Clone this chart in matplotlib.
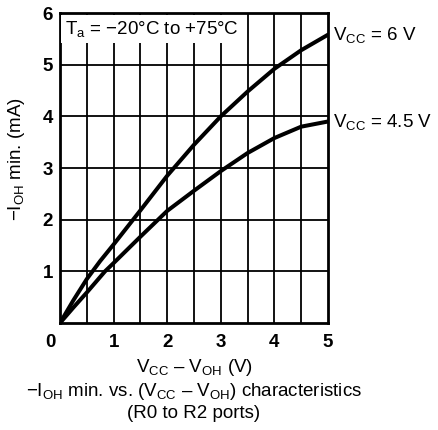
import matplotlib
matplotlib.use("Agg")
import matplotlib.pyplot as plt
import matplotlib.transforms as mtransforms
import numpy as np

plt.rcParams['font.family'] = ['Liberation Sans', 'DejaVu Sans']
plt.rcParams['mathtext.fontset'] = 'custom'
plt.rcParams['mathtext.rm'] = 'Liberation Sans'
plt.rcParams['mathtext.it'] = 'Liberation Sans'
plt.rcParams['mathtext.default'] = 'regular'

# data
x_6v = [0.0, 0.25, 0.5, 0.75, 1.0, 1.5, 2.0, 2.5, 3.0, 3.5, 4.0, 4.5, 5.0]
y_6v = [0.0, 0.44, 0.85, 1.2, 1.52, 2.18, 2.85, 3.45, 4.0, 4.48, 4.92, 5.28, 5.58]
x_45v = [0.0, 0.25, 0.5, 0.84, 1.0, 1.5, 2.0, 2.5, 3.0, 3.5, 4.0, 4.5, 5.0]
y_45v = [0.0, 0.3, 0.59, 1.0, 1.16, 1.67, 2.17, 2.56, 2.94, 3.29, 3.58, 3.8, 3.9]
xticks = [0, 1, 2, 3, 4, 5]
yticks = [0, 1, 2, 3, 4, 5, 6]
ytick_labels = ["", "1", "2", "3", "4", "5", "6"]
label_6v = "V$_{CC}$ = 6 V"
label_45v = "V$_{CC}$ = 4.5 V"

FS = 13.5

fig = plt.figure(figsize=(4.39, 4.30), dpi=100)
ax = fig.add_axes([60/439, 1-323/430, (328-60)/439, (323-13)/430])
ax.set_xlim(0, 5)
ax.set_ylim(0, 6)

for xv in np.arange(0.5, 5, 0.5):
    ax.axvline(xv, color='black', lw=1.3, zorder=1)
for yv in range(1, 6):
    ax.axhline(yv, color='black', lw=1.3, zorder=1)

ax.plot(x_6v, y_6v, color='black', lw=2.9, zorder=3, solid_capstyle='round', solid_joinstyle='round')
ax.plot(x_45v, y_45v, color='black', lw=2.9, zorder=3, solid_capstyle='round', solid_joinstyle='round')

for s in ax.spines.values():
    s.set_linewidth(2)
ax.set_xticks(xticks)
ax.set_yticks(yticks)
ax.set_yticklabels(ytick_labels)
ax.tick_params(length=0)
ax.tick_params(axis='x', pad=8)
ax.tick_params(axis='y', pad=5)
for lab in ax.get_xticklabels() + ax.get_yticklabels():
    lab.set_fontsize(FS)
    lab.set_fontweight('bold')
# the "0" sits left of the corner, as in the original
first = ax.get_xticklabels()[0]
first.set_transform(first.get_transform() + mtransforms.ScaledTranslation(-7/72, 0, fig.dpi_scale_trans))

ax.text(0.1, 5.69, "T$_a$ = \u221220\u00b0C to +75\u00b0C", fontsize=FS, va='center', ha='left',
        zorder=4, bbox=dict(facecolor='white', edgecolor='none', pad=3))

ax.text(5.1, y_6v[-1], label_6v, fontsize=FS, va='center', ha='left', clip_on=False)
ax.text(5.1, y_45v[-1], label_45v, fontsize=FS, va='center', ha='left', clip_on=False)

ax.set_ylabel("\u2212I$_{OH}$ min. (mA)", fontsize=FS)
ax.yaxis.set_label_coords(-0.123, 0.53)
cx = (60 + 328) / 2 / 439
fig.text(cx, 1-367/430, "V$_{CC}$ \u2013 V$_{OH}$ (V)", fontsize=FS, ha='center', va='center')
fig.text(cx, 1-392/430, "\u2212I$_{OH}$ min. vs. (V$_{CC}$ \u2013 V$_{OH}$) characteristics",
         fontsize=FS, ha='center', va='center')
fig.text(cx, 1-413/430, "(R0 to R2 ports)", fontsize=FS, ha='center', va='center')

fig.savefig("out.png", dpi=100)
